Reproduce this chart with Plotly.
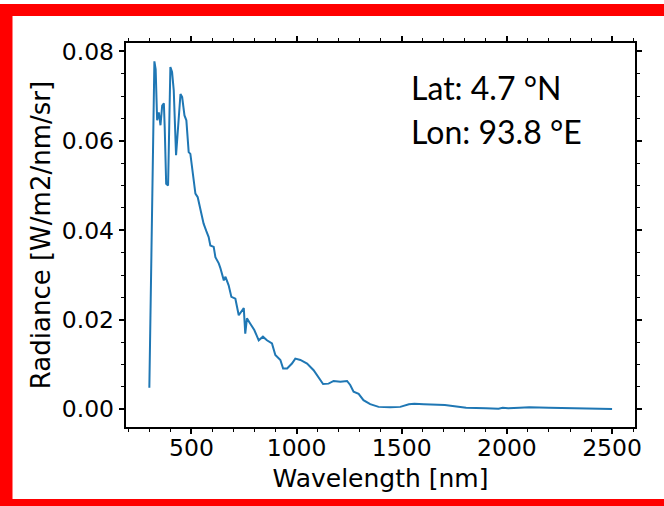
import plotly.graph_objects as go

# Top-of-atmosphere radiance spectrum
wavelength_nm = [
    300, 324, 330, 337, 345, 353, 361, 369, 373, 380, 389, 400, 408, 416, 427,
    438, 448, 456, 467, 476, 487, 495, 508, 519, 530, 543, 558, 571, 582, 590,
    606, 614, 630, 638, 654, 662, 677, 690, 709, 725, 741, 749, 756, 764, 780,
    799, 820, 840, 859, 883, 899, 923, 936, 955, 978, 994, 1018, 1050, 1081,
    1105, 1126, 1152, 1176, 1208, 1240, 1255, 1271, 1295, 1318, 1350, 1390,
    1445, 1493, 1534, 1560, 1605, 1650, 1705, 1760, 1806, 1900, 1960, 1980,
    2006, 2060, 2106, 2200, 2309, 2400, 2500,
]
radiance = [
    0.0048, 0.0778, 0.0760, 0.0646, 0.0664, 0.0635, 0.0679, 0.0684, 0.0631,
    0.0504, 0.0500, 0.0765, 0.0754, 0.0713, 0.0568, 0.0650, 0.0705, 0.0698,
    0.0657, 0.0646, 0.0575, 0.0571, 0.0519, 0.0482, 0.0474, 0.0445, 0.0415,
    0.0398, 0.0385, 0.0366, 0.0363, 0.0340, 0.0326, 0.0315, 0.0288, 0.0296,
    0.0277, 0.0251, 0.0247, 0.0210, 0.0221, 0.0226, 0.0169, 0.0203, 0.0191,
    0.0177, 0.0154, 0.0162, 0.0154, 0.0147, 0.0121, 0.0110, 0.0091, 0.0091,
    0.0102, 0.0113, 0.0110, 0.0102, 0.0087, 0.0069, 0.0056, 0.0057, 0.0063,
    0.0061, 0.0063, 0.0054, 0.0039, 0.0034, 0.0020, 0.0011, 0.0005, 0.0004,
    0.0005, 0.0011, 0.0012, 0.0011, 0.0010, 0.0009, 0.0006, 0.0003, 0.0002,
    0.0001, 0.0003, 0.0002, 0.0003, 0.0004, 0.0003, 0.0002, 0.0001, 0.0000,
]
location_lines = ["Lat: 4.7 °N", "Lon: 93.8 °E"]

W, H = 664, 506
ML, MR, MT, MB = 126, 29, 43, 79
PW, PH = W - ML - MR, H - MT - MB


def px_to_paper_x(px):
    return (px - ML) / PW


def px_to_paper_y(py):
    return (H - MB - py) / PH


fig = go.Figure()
fig.add_trace(go.Scatter(
    x=wavelength_nm, y=radiance, mode="lines",
    line=dict(color="#1f77b4", width=2),
    showlegend=False, hoverinfo="skip",
))

font_main = "DejaVu Sans"
axis_common = dict(
    showline=True, linecolor="black", linewidth=1.5, mirror="ticks",
    ticks="outside", ticklen=5.5, tickwidth=1.5, tickcolor="black",
    showgrid=False, zeroline=False,
    tickfont=dict(family=font_main, size=23.5, color="black"),
)

fig.update_xaxes(
    range=[189, 2609], tick0=0, dtick=500, ticklabelstandoff=-6,
    minor=dict(ticks="outside", dtick=100, tick0=0, ticklen=3, tickwidth=1.2,
               tickcolor="black", showgrid=False),
    title=dict(text="Wavelength [nm]", standoff=8,
               font=dict(family=font_main, size=25, color="black")),
    **axis_common,
)
fig.update_yaxes(
    range=[-0.0040, 0.0819], tick0=0, dtick=0.02, tickformat=".2f",
    minor=dict(ticks="outside", dtick=0.005, tick0=0, ticklen=3, tickwidth=1.2,
               tickcolor="black", showgrid=False),
    title=dict(text="Radiance [W/m2/nm/sr]", standoff=4,
               font=dict(family=font_main, size=26, color="black")),
    **axis_common,
)

# Location label
for i, line in enumerate(location_lines):
    fig.add_annotation(
        xref="paper", yref="paper",
        x=px_to_paper_x(409), y=px_to_paper_y(87 + 44 * i),
        xanchor="left", yanchor="middle", showarrow=False,
        text=line, font=dict(family="Lato", size=32, color="black"),
    )

# Red frame around the panel
frame = [
    (0, 4, W, 16),      # top
    (0, 4, 12.5, H),    # left
    (0, 499, W, H),     # bottom
]
for x0, y0, x1, y1 in frame:
    fig.add_shape(
        type="rect", xref="paper", yref="paper", layer="above",
        x0=px_to_paper_x(x0), x1=px_to_paper_x(x1),
        y0=px_to_paper_y(y0), y1=px_to_paper_y(y1),
        fillcolor="#ff0000", line=dict(width=0),
    )

fig.update_layout(
    width=W, height=H,
    margin=dict(l=ML, r=MR, t=MT, b=MB, pad=0),
    paper_bgcolor="white", plot_bgcolor="white",
)

fig.write_html("out.html")
